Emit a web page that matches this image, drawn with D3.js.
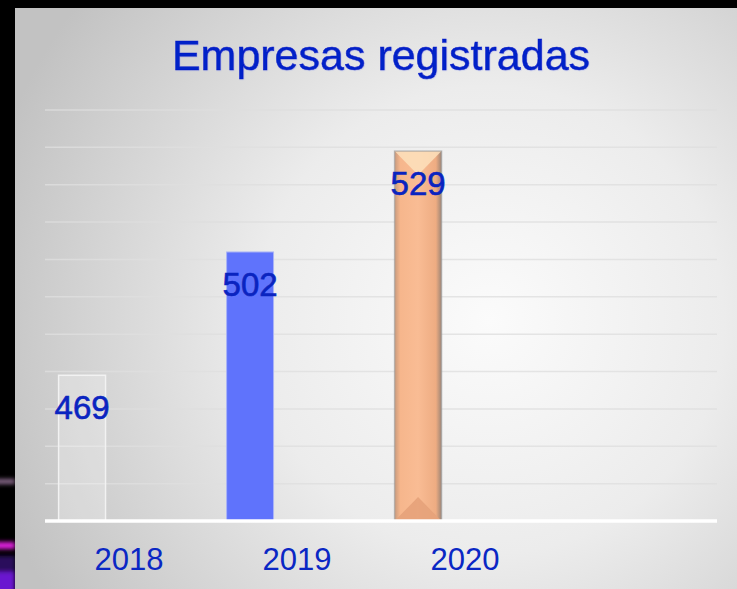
<!DOCTYPE html>
<html>
<head>
<meta charset="utf-8">
<script src="https://cdn.jsdelivr.net/npm/d3@7"></script>
<style>
  body { margin: 0; background: #000; }
  svg { display: block; }
  text { font-family: "Liberation Sans", Arial, sans-serif; }
</style>
</head>
<body>
<script>
// Chart data
var years = ["2018", "2019", "2020", ""];
var values = [469, 502, 529];
var yTicks = [430, 440, 450, 460, 470, 480, 490, 500, 510, 520, 530, 540];
var title = "Empresas registradas";

var svgWidth = 737;
var svgHeight = 589;

// Plot area inside the gray panel
var margin = { top: 110, right: 20, bottom: 68, left: 45 };
var chartWidth = svgWidth - margin.left - margin.right;
var chartHeight = svgHeight - margin.top - margin.bottom;

var svg = d3.select("body")
  .append("svg")
  .attr("width", svgWidth)
  .attr("height", svgHeight);

var defs = svg.append("defs");

// Radial gray background
var bg = defs.append("radialGradient")
  .attr("id", "bg")
  .attr("gradientUnits", "userSpaceOnUse")
  .attr("cx", 490).attr("cy", 320).attr("r", 520);
bg.append("stop").attr("offset", "0%").attr("stop-color", "#fbfbfb");
bg.append("stop").attr("offset", "45%").attr("stop-color", "#ececec");
bg.append("stop").attr("offset", "100%").attr("stop-color", "#c2c2c2");

var blur = defs.append("filter").attr("id", "blur")
  .attr("x", "-50%").attr("y", "-50%").attr("width", "200%").attr("height", "200%");
blur.append("feGaussianBlur").attr("stdDeviation", 2);

// Peach bar shading
var peach = defs.append("linearGradient").attr("id", "peach");
peach.append("stop").attr("offset", "0%").attr("stop-color", "#c99a7c");
peach.append("stop").attr("offset", "12%").attr("stop-color", "#f6b68c");
peach.append("stop").attr("offset", "50%").attr("stop-color", "#f9bc94");
peach.append("stop").attr("offset", "88%").attr("stop-color", "#eeac82");
peach.append("stop").attr("offset", "100%").attr("stop-color", "#9d8576");

var shadow = defs.append("filter").attr("id", "shadow");
shadow.append("feDropShadow")
  .attr("dx", 0.5).attr("dy", 0.5).attr("stdDeviation", 0.6)
  .attr("flood-color", "#8090f0").attr("flood-opacity", 0.45);

// Black frame
svg.append("rect")
  .attr("width", svgWidth).attr("height", svgHeight)
  .attr("fill", "#000");

var strip = svg.append("g").attr("filter", "url(#blur)");
strip.append("rect").attr("x", -5).attr("y", 479).attr("width", 20).attr("height", 5)
  .attr("fill", "#8a6a8c");
strip.append("rect").attr("x", -5).attr("y", 542).attr("width", 20).attr("height", 7)
  .attr("fill", "#de22dc");
strip.append("rect").attr("x", -5).attr("y", 556).attr("width", 20).attr("height", 16)
  .attr("fill", "#2c0a5c");
strip.append("rect").attr("x", -5).attr("y", 572).attr("width", 20).attr("height", 25)
  .attr("fill", "#6a12d0");

// Gray panel
svg.append("rect")
  .attr("x", 15).attr("y", 8)
  .attr("width", svgWidth - 15).attr("height", svgHeight - 8)
  .attr("fill", "url(#bg)");

// Title
svg.append("text")
  .attr("x", 381)
  .attr("y", 70)
  .attr("text-anchor", "middle")
  .attr("font-size", 43)
  .attr("fill", "#0520c8")
  .attr("stroke", "#0520c8")
  .attr("stroke-width", 0.5)
  .attr("filter", "url(#shadow)")
  .text(title);

var chartGroup = svg.append("g")
  .attr("transform", `translate(${margin.left}, ${margin.top})`);

// Scales
var xBand = d3.scaleBand()
  .domain(years)
  .range([0, chartWidth]);

// three clustered slots per category, the bar sits in the first one
var xSlot = d3.scaleBand()
  .domain([0, 1, 2])
  .range([0, xBand.bandwidth()])
  .paddingOuter(0.29);

var yLinearScale = d3.scaleLinear()
  .domain([430, 540])
  .range([chartHeight, 0]);

// Gridlines
chartGroup.append("g")
  .selectAll("line")
  .data(yTicks.slice(1))
  .enter()
  .append("line")
  .attr("x1", 0)
  .attr("x2", chartWidth)
  .attr("y1", d => yLinearScale(d))
  .attr("y2", d => yLinearScale(d))
  .attr("stroke", "#dedede")
  .attr("stroke-opacity", 0.8)
  .attr("stroke-width", 1.5);

// Bars
var barX = i => xBand(years[i]) + xSlot(0);
var barW = xSlot.bandwidth();

// 2018: nearly transparent white
chartGroup.append("rect")
  .attr("x", barX(0))
  .attr("y", yLinearScale(values[0]))
  .attr("width", barW)
  .attr("height", chartHeight - yLinearScale(values[0]))
  .attr("fill", "#ffffff")
  .attr("fill-opacity", 0.25)
  .attr("stroke", "#f2f2f2")
  .attr("stroke-width", 1.5);

// 2019: flat blue
chartGroup.append("rect")
  .attr("x", barX(1))
  .attr("y", yLinearScale(values[1]))
  .attr("width", barW)
  .attr("height", chartHeight - yLinearScale(values[1]))
  .attr("fill", "#5f73fc")
  .attr("stroke", "#aab4f6")
  .attr("stroke-width", 1);

// 2020: bevelled peach
var x2 = barX(2), y2 = yLinearScale(values[2]), h2 = chartHeight - y2;
var bev = chartGroup.append("g");
bev.append("rect")
  .attr("x", x2).attr("y", y2)
  .attr("width", barW).attr("height", h2)
  .attr("fill", "url(#peach)");
var half = barW / 2;
var depth = 24;
bev.append("path")
  .attr("d", `M${x2},${y2}L${x2 + barW},${y2}L${x2 + half},${y2 + depth}Z`)
  .attr("fill", "#fde0bc")
  .attr("fill-opacity", 0.85);
bev.append("path")
  .attr("d", `M${x2},${chartHeight}L${x2 + barW},${chartHeight}L${x2 + half},${chartHeight - depth}Z`)
  .attr("fill", "#e6a27a")
  .attr("fill-opacity", 0.9);
bev.append("rect")
  .attr("x", x2).attr("y", y2)
  .attr("width", barW).attr("height", h2)
  .attr("fill", "none")
  .attr("stroke", "#9a9a9a")
  .attr("stroke-opacity", 0.6)
  .attr("stroke-width", 1.5);

// Baseline
chartGroup.append("line")
  .attr("x1", 0)
  .attr("x2", chartWidth)
  .attr("y1", chartHeight)
  .attr("y2", chartHeight)
  .attr("stroke", "#ffffff")
  .attr("stroke-width", 3.5);

// Value labels
chartGroup.selectAll(".val")
  .data(values)
  .enter()
  .append("text")
  .attr("class", "val")
  .attr("x", (d, i) => barX(i) + barW / 2)
  .attr("y", d => yLinearScale(d) + 44)
  .attr("text-anchor", "middle")
  .attr("font-size", 33)
  .attr("fill", "#0a24c0")
  .attr("stroke", "#0a24c0")
  .attr("stroke-width", 0.6)
  .text(d => d);

// Category axis
var bottomAxis = d3.axisBottom(xBand).tickSize(0).tickPadding(0);
var axisG = chartGroup.append("g")
  .attr("transform", `translate(0, ${chartHeight})`)
  .call(bottomAxis);
axisG.select(".domain").remove();
axisG.selectAll("text")
  .attr("dy", 0)
  .attr("y", 49)
  .attr("font-size", 31)
  .attr("font-family", "Liberation Sans, Arial, sans-serif")
  .attr("fill", "#0a27c4");
</script>
</body>
</html>
